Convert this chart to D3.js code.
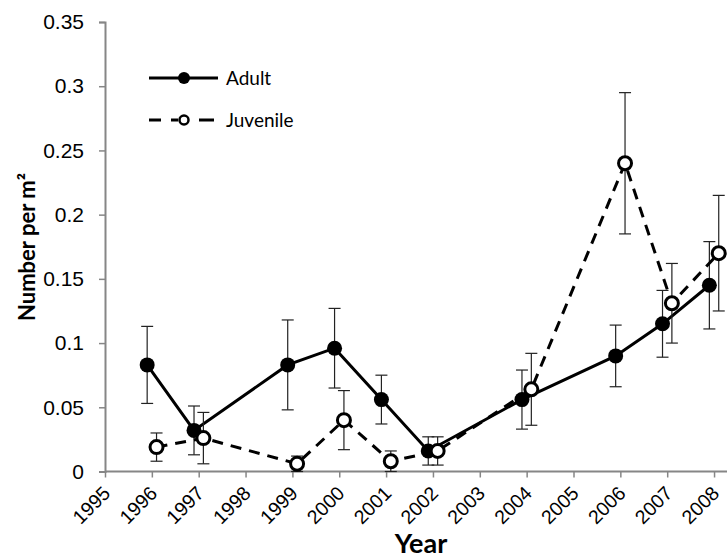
<!DOCTYPE html>
<html>
<head>
<meta charset="utf-8">
<script src="https://cdn.jsdelivr.net/npm/d3@7"></script>
<style>
  body { margin: 0; background: #fff; }
  svg { display: block; font-family: Lato, "Open Sans", sans-serif; }
</style>
</head>
<body>
<div id="chart"></div>
<script>
// years shown on the axis
const tickYears = [1995, 1996, 1997, 1998, 1999, 2000, 2001, 2002, 2003, 2004, 2005, 2006, 2007, 2008];
const yTicks = [0, 0.05, 0.1, 0.15, 0.2, 0.25, 0.3, 0.35];

// sampled years
const years = [1996, 1997, 1999, 2000, 2001, 2002, 2004, 2006, 2007, 2008];

// adult density and error
const adultMean = [0.083, 0.032, 0.083, 0.096, 0.056, 0.016, 0.056, 0.090, 0.115, 0.145];
const adultErr  = [0.030, 0.019, 0.035, 0.031, 0.019, 0.011, 0.023, 0.024, 0.026, 0.034];

// juvenile density and error
const juvMean = [0.019, 0.026, 0.006, 0.040, 0.008, 0.016, 0.064, 0.240, 0.131, 0.170];
const juvErr  = [0.011, 0.020, 0.006, 0.023, 0.008, 0.011, 0.028, 0.055, 0.031, 0.045];

const width = 727, height = 555;
const margin = { top: 22, right: 0, bottom: 84, left: 105 };

const svg = d3.select('#chart').append('svg')
    .attr('width', width)
    .attr('height', height);

// 1995 .. 2008 spans 609px, axis runs on past the window edge
const yearPx = 46.85;
const x = d3.scaleLinear()
    .domain([1995, 2008])
    .range([margin.left, margin.left + 13 * yearPx]);

const y = d3.scaleLinear()
    .domain([0, 0.35])
    .range([471.5, margin.top]);

const axisColor = '#868686';

// y axis
const yAxis = svg.append('g')
    .attr('transform', `translate(${margin.left},0)`)
    .call(d3.axisLeft(y).tickValues(yTicks).tickSize(6).tickPadding(15)
        .tickFormat(d => d3.format('')(+d.toFixed(2))));
yAxis.select('.domain').attr('stroke', axisColor).attr('stroke-width', 2);
yAxis.selectAll('.tick line').attr('stroke', axisColor).attr('stroke-width', 1.5);
yAxis.selectAll('.tick text')
    .attr('fill', '#000')
    .style('font-size', '21px');

// x axis
const xAxis = svg.append('g')
    .attr('transform', `translate(0,${y(0)})`)
    .call(d3.axisBottom(x).tickValues(tickYears).tickSize(6).tickFormat(d3.format('d')));
xAxis.select('.domain')
    .attr('d', `M${margin.left},0H${width + 5}`)
    .attr('stroke', axisColor).attr('stroke-width', 2);
xAxis.selectAll('.tick line').attr('stroke', axisColor).attr('stroke-width', 1.5);
xAxis.selectAll('.tick text')
    .attr('fill', '#000')
    .style('font-size', '19.5px')
    .attr('text-anchor', 'end')
    .attr('dy', null)
    .attr('y', 0)
    .attr('transform', 'translate(6,23) rotate(-45)');

// axis titles
svg.append('text')
    .attr('x', 421)
    .attr('y', 553)
    .attr('text-anchor', 'middle')
    .style('font-size', '27px')
    .style('font-weight', 'bold')
    .text('Year');

svg.append('text')
    .attr('transform', 'translate(35,247) rotate(-90)')
    .attr('text-anchor', 'middle')
    .style('font-size', '22px')
    .style('font-weight', 'bold')
    .text('Number per m²');

// series, adult offset left and juvenile right of the year
const series = [
    { name: 'Adult', mean: adultMean, err: adultErr, shift: -0.1, dash: null, fill: '#000' },
    { name: 'Juvenile', mean: juvMean, err: juvErr, shift: 0.1, dash: '11,8', fill: '#fff' }
];

series.forEach(s => {
    const pts = years.map((yr, i) => ({ yr: yr + s.shift, v: s.mean[i], e: s.err[i] }));
    const g = svg.append('g');

    const bars = g.selectAll('.err')
        .data(pts)
        .join('g')
        .attr('class', 'err')
        .attr('stroke', '#222')
        .attr('stroke-width', 1.2);
    bars.append('line')
        .attr('x1', d => x(d.yr)).attr('x2', d => x(d.yr))
        .attr('y1', d => y(d.v + d.e)).attr('y2', d => y(Math.max(0, d.v - d.e)));
    bars.append('line')
        .attr('x1', d => x(d.yr) - 6).attr('x2', d => x(d.yr) + 6)
        .attr('y1', d => y(d.v + d.e)).attr('y2', d => y(d.v + d.e));
    bars.append('line')
        .attr('x1', d => x(d.yr) - 6).attr('x2', d => x(d.yr) + 6)
        .attr('y1', d => y(Math.max(0, d.v - d.e))).attr('y2', d => y(Math.max(0, d.v - d.e)));

    g.append('path')
        .datum(pts)
        .attr('fill', 'none')
        .attr('stroke', '#000')
        .attr('stroke-width', 3)
        .attr('stroke-dasharray', s.dash)
        .attr('d', d3.line().x(d => x(d.yr)).y(d => y(d.v)));

    g.selectAll('circle')
        .data(pts)
        .join('circle')
        .attr('cx', d => x(d.yr))
        .attr('cy', d => y(d.v))
        .attr('r', s.fill === '#000' ? 7.5 : 6.5)
        .attr('fill', s.fill)
        .attr('stroke', '#000')
        .attr('stroke-width', s.fill === '#000' ? 0 : 3);
});

// legend
const legend = svg.append('g');
series.forEach((s, i) => {
    const ly = 78 + i * 42;
    legend.append('line')
        .attr('x1', 149).attr('x2', 218)
        .attr('y1', ly).attr('y2', ly)
        .attr('stroke', '#000')
        .attr('stroke-width', 3)
        .attr('stroke-dasharray', s.dash ? '12,10,7,21,15' : null);
    legend.append('circle')
        .attr('cx', 184).attr('cy', ly)
        .attr('r', s.fill === '#000' ? 6 : 4.5)
        .attr('fill', s.fill)
        .attr('stroke', '#000')
        .attr('stroke-width', s.fill === '#000' ? 0 : 2.5);
    legend.append('text')
        .attr('x', 226).attr('y', ly + 7)
        .style('font-size', '19px')
        .text(s.name);
});
</script>
</body>
</html>
